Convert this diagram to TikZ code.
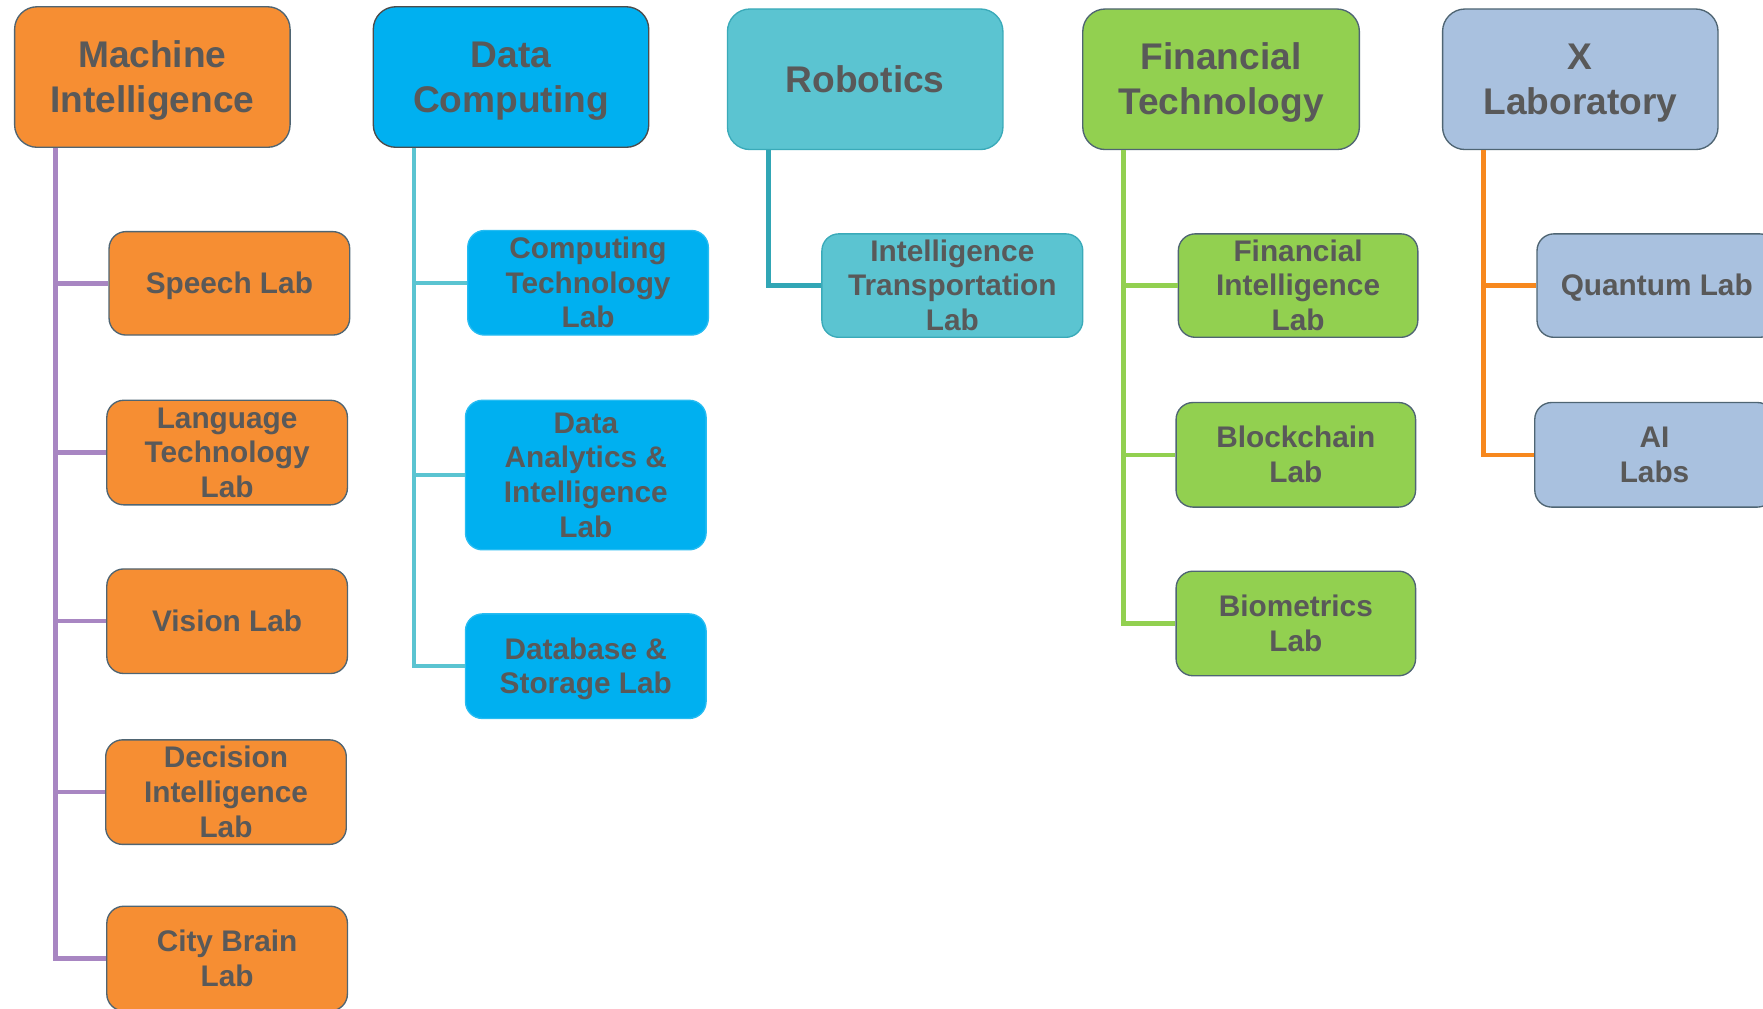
\documentclass[tikz,border=0pt]{standalone}
\usepackage{fontspec}
\setmainfont{Liberation Sans}
\definecolor{txtgrey}{HTML}{595959}
\definecolor{edgegrey}{HTML}{4F6573}
\definecolor{miorange}{HTML}{F68E33}
\definecolor{dcblue}{HTML}{00B0F0}
\definecolor{rbteal}{HTML}{5BC4D1}
\definecolor{rbedge}{HTML}{3AAAB9}
\definecolor{ftgreen}{HTML}{92D050}
\definecolor{xlblue}{HTML}{A9C1DF}
\definecolor{miline}{HTML}{A886C2}
\definecolor{dcline}{HTML}{5BC4D1}
\definecolor{rbline}{HTML}{31A6B5}
\definecolor{xlline}{HTML}{F7881E}
\newcommand{\bs}{\rule[-0.212em]{0pt}{1.117em}}
\begin{document}
\begin{tikzpicture}[x=1pt, y=-1pt, line join=miter,
	top/.style={rounded corners=20pt, line width=1.2pt, minimum width=245pt, minimum height=125pt, inner sep=0pt, align=center, text=txtgrey, font=\bfseries\fontsize{33}{40}\selectfont, execute at end node=\bs},
	lab/.style={rounded corners=15pt, line width=1.2pt, minimum width=214pt, minimum height=93pt, inner sep=0pt, align=center, text=txtgrey, font=\bfseries\fontsize{26.5}{31}\selectfont, execute at end node=\bs},
	mi/.style={fill=miorange, draw=edgegrey},
	dc/.style={fill=dcblue, draw=dcblue!85!white},
	rb/.style={fill=rbteal, draw=rbedge},
	ft/.style={fill=ftgreen, draw=edgegrey},
	xl/.style={fill=xlblue, draw=edgegrey},
	link/.style={line width=4pt}]
	\useasboundingbox (0,0) rectangle (1568,897);
	\clip (0,0) rectangle (1568,897);
	% top row
	\node[top, mi] (mi) at (135.5,68.5) {\bs Machine\\Intelligence};
	\node[top, dc, draw=black!70] (dc) at (454.5,68.5) {\bs Data\\Computing};
	\node[top, rb] (rb) at (769.5,70.5) {\bs Robotics};
	\node[top, ft, minimum width=246pt] (ft) at (1086,70.5) {\bs Financial\\Technology};
	\node[top, xl] (xl) at (1405.5,70.5) {\bs X\\Laboratory};
	% machine intelligence
	\node[lab, mi, minimum height=92pt] (speech) at (204,252) {\bs Speech Lab};
	\node[lab, mi] (lang) at (202,402.5) {\bs Language\\Technology\\Lab};
	\node[lab, mi] (vision) at (202,552.5) {\bs Vision Lab};
	\node[lab, mi] (decision) at (201,704.5) {\bs Decision\\Intelligence\\Lab};
	\node[lab, mi] (city) at (202,852.5) {\bs City Brain\\Lab};
	% data computing
	\node[lab, dc] (comptech) at (523,251.5) {\bs Computing\\Technology\\Lab};
	\node[lab, dc, minimum height=133pt] (analytics) at (521,422.5) {\bs Data\\Analytics \&\\Intelligence\\Lab};
	\node[lab, dc] (database) at (521,592.5) {\bs Database \&\\Storage Lab};
	% robotics
	\node[lab, rb, minimum width=232pt, minimum height=92pt] (transport) at (847,254) {\bs Intelligence\\Transportation\\Lab};
	% financial technology
	\node[lab, ft, minimum width=213pt, minimum height=92pt] (fintel) at (1154.5,254) {\bs Financial\\Intelligence\\Lab};
	\node[lab, ft, minimum width=213pt] (blockchain) at (1152.5,404.5) {\bs Blockchain\\Lab};
	\node[lab, ft, minimum width=213pt] (biometrics) at (1152.5,554.5) {\bs Biometrics\\Lab};
	% x laboratory
	\node[lab, xl, minimum width=213pt, minimum height=92pt] (quantum) at (1473.5,254) {\bs Quantum Lab};
	\node[lab, xl, minimum width=213pt] (ailabs) at (1471.5,404.5) {\bs AI\\Labs};
	% connectors
	\foreach \c in {speech,lang,vision,decision,city}
		\draw[link, miline] (mi.south west) ++(37,0) |- (\c.west);
	\foreach \c in {comptech,analytics,database}
		\draw[link, dcline] (dc.south west) ++(37,0) |- (\c.west);
	\draw[link, rbline] (rb.south west) ++(37,0) |- (transport.west);
	\foreach \c in {fintel,blockchain,biometrics}
		\draw[link, ftgreen] (ft.south west) ++(37,0) |- (\c.west);
	\foreach \c in {quantum,ailabs}
		\draw[link, xlline] (xl.south west) ++(37,0) |- (\c.west);
\end{tikzpicture}
\end{document}
